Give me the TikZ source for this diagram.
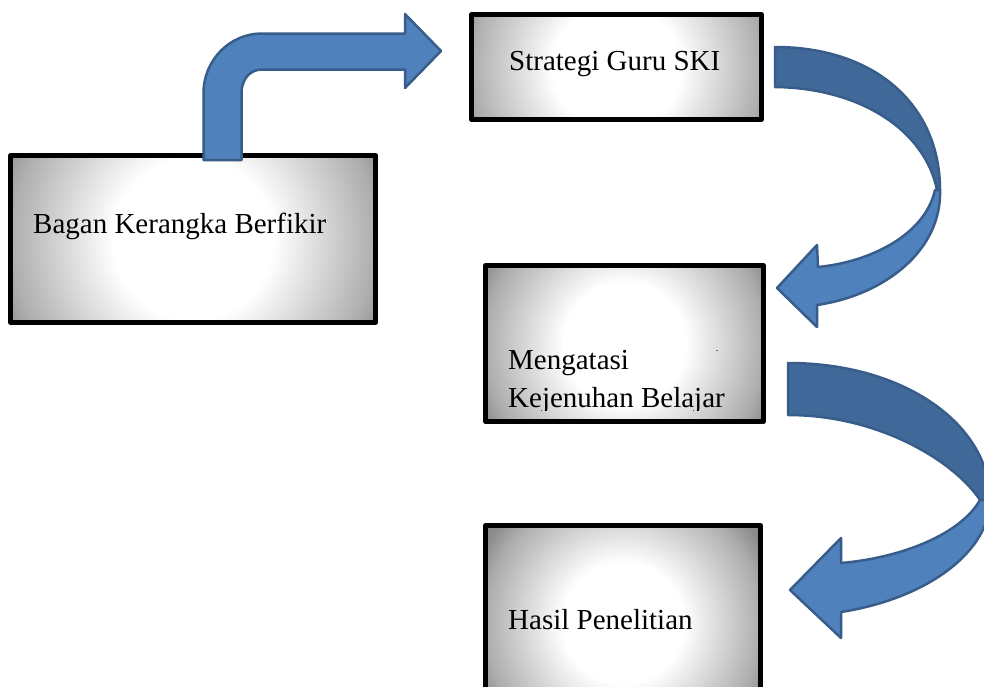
\documentclass[tikz,border=0pt]{standalone}
\usepackage{fontspec}
\setmainfont{Liberation Serif}
\usetikzlibrary{calc}
\definecolor{arrowblue}{HTML}{4F81BD}
\definecolor{arrowdark}{HTML}{406898}
\definecolor{arrowedge}{HTML}{385D8A}
\pgfdeclareradialshading{boxrad}{\pgfpoint{0bp}{0bp}}{color(0bp)=(white); color(11bp)=(white); color(25bp)=(black!32); color(29bp)=(black!46); color(50bp)=(black!50)}
\tikzset{
  boxnode/.style={draw=black, line width=4.5pt, line join=round, inner sep=0pt,
    path picture={\shade[shading=boxrad]
      ($(path picture bounding box.west)!1!90:(path picture bounding box.center)$) rectangle
      ($(path picture bounding box.east)!1!90:(path picture bounding box.center)$);}},
  boxtext/.style={anchor=base west, inner sep=0pt, font=\fontsize{29}{34}\selectfont},
  arrowlight/.style={fill=arrowblue, draw=arrowedge, line width=2.5pt, line join=round},
  arrowback/.style={fill=arrowdark, draw=arrowedge, line width=2.5pt, line join=round}
}
\begin{document}
\begin{tikzpicture}[x=1pt,y=-1pt]
\useasboundingbox (0,0) rectangle (984,686);
\clip (0,0) rectangle (984,686);

% boxes
\node[boxnode, minimum width=365pt, minimum height=167pt] (b1) at (193,239) {};
\node[boxnode, minimum width=290pt, minimum height=105pt] (b2) at (616.5,67) {};
\node[boxnode, minimum width=278pt, minimum height=156pt] (b3) at (624.5,343.5) {};
\node[boxnode, minimum width=275pt, minimum height=195pt] (b4) at (623,623) {};

% texts
\node[boxtext] (t1) at (33,233) {Bagan Kerangka Berfikir};
\node[boxtext] (t2) at (509,70) {Strategi Guru SKI};
\node[boxtext] (t3a) at (508,369) {Mengatasi};
\begin{scope}
  \clip (480,380) rectangle (770,410);
  \node[boxtext] (t3b) at (508,407) {Kejenuhan Belajar};
\end{scope}
\node[anchor=base, inner sep=0pt, font=\fontsize{10}{12}\selectfont] (dot) at (717,351) {.};
\node[boxtext] (t4) at (508,629) {Hasil Penelitian};

% bent arrow from b1 to b2
\draw[arrowlight] (203.5,160) -- (203.5,93)
  .. controls (203.5,60.2) and (229.7,33.5) .. (262,33.5)
  -- (405,33.5) -- (405,14) -- (441,51) -- (405,88) -- (405,69.5) -- (262,69.5)
  .. controls (249,69.5) and (241.5,80.5) .. (241.5,93)
  -- (241.5,160) -- cycle;

% curved arrow from b2 to b3
\draw[arrowback] (775,47) .. controls (875,47) and (940,105) .. (940,190)
  -- (937,190) .. controls (925,130) and (860,88) .. (775,87) -- cycle;
\draw[arrowlight] (940,190) .. controls (942,250) and (885,295) .. (817,305)
  -- (817,327) -- (777,288) -- (817,245) -- (818,267)
  .. controls (870,262) and (925,235) .. (935,190) -- cycle;

% curved arrow from b3 to b4
\draw[arrowback] (788,363) .. controls (905,363) and (990,425) .. (990,500)
  -- (980,500) .. controls (955,462) and (880,415) .. (788,415) -- cycle;
\draw[arrowlight] (990,500) .. controls (990,550) and (930,598) .. (841,612)
  -- (841,638) -- (790,590) -- (841,538) -- (841,563)
  .. controls (900,558) and (960,535) .. (980,500) -- cycle;
\end{tikzpicture}
\end{document}
